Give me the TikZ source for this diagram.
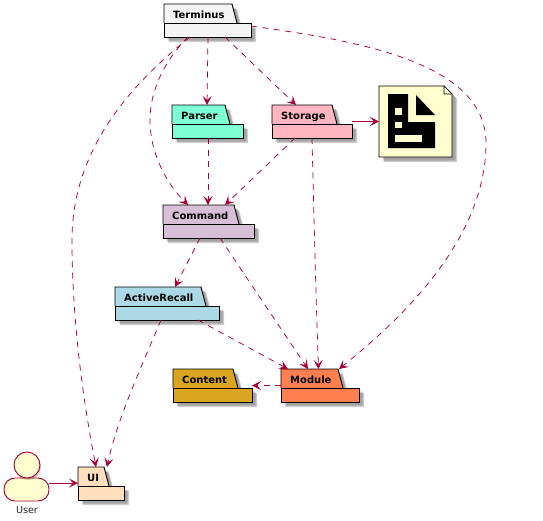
\documentclass[tikz,border=0pt]{standalone}
\usepackage{fontspec}
\setmainfont{DejaVu Sans}
\usepackage{xcolor}
\definecolor{depred}{HTML}{A80036}
\definecolor{notecream}{HTML}{FEFECE}
\definecolor{pkgterminus}{HTML}{F5F5F5}
\definecolor{pkgparser}{HTML}{7FFFD4}
\definecolor{pkgstorage}{HTML}{FFB6C1}
\definecolor{pkgcommand}{HTML}{D8BFD8}
\definecolor{pkgrecall}{HTML}{ADD8E6}
\definecolor{pkgcontent}{HTML}{DAA520}
\definecolor{pkgmodule}{HTML}{FF7F50}
\definecolor{pkgui}{HTML}{FFDFBD}
\usetikzlibrary{arrows.meta}
\tikzset{
    pkgline/.style={draw=black, line width=0.95pt, line join=miter},
    softshadow/.style={fill=black, opacity=0.2, draw=none},
    pkgframe/.style={inner sep=0pt, outer sep=0pt, minimum height=33pt},
    pkglabel/.style={anchor=base west, inner sep=0pt, font=\bfseries\fontsize{10}{12}\selectfont},
    dep/.style={draw=depred, line width=0.75pt, dash pattern=on 6pt off 5.5pt, -{Stealth[length=9pt, width=9pt, inset=4pt]}},
    uses/.style={draw=depred, line width=0.75pt, -{Stealth[length=9pt, width=9pt, inset=4pt]}}
}
% name, label, colour, left, top, tab width, body width
\newcommand{\pkgbox}[7]{
    \foreach \off in {3.5, 5} {
        \fill[softshadow, shift={(\off, \off)}] (#4, #5) -- ({#4+#6}, #5) -- ({#4+#6+5}, {#5+19}) -- ({#4+#7}, {#5+19}) -- ({#4+#7}, {#5+33}) -- (#4, {#5+33}) -- cycle;
    }
    \draw[pkgline, fill=#3] (#4, {#5+19}) -- (#4, #5) -- ({#4+#6}, #5) -- ({#4+#6+5}, {#5+19});
    \draw[pkgline, fill=#3] (#4, {#5+19}) rectangle ({#4+#7}, {#5+33});
    \node[pkgframe, minimum width=#7pt] (#1) at ({#4+#7/2}, {#5+16.5}) {};
    \node[pkglabel] (#1label) at ({#4+9}, {#5+14.5}) {#2};
}

\begin{document}
\begin{tikzpicture}[x=1pt, y=-1pt]
    \useasboundingbox (0, 0) rectangle (543, 520);

    % Packages
    \pkgbox{terminus}{Terminus}{pkgterminus}{164}{4}{68}{87}
    \pkgbox{parser}{Parser}{pkgparser}{172}{105}{53}{71}
    \pkgbox{storage}{Storage}{pkgstorage}{272}{105}{60}{80}
    \pkgbox{command}{Command}{pkgcommand}{163}{205}{71}{91}
    \pkgbox{recall}{ActiveRecall}{pkgrecall}{115}{287}{86}{104}
    \pkgbox{content}{Content}{pkgcontent}{173}{369}{60}{79}
    \pkgbox{module}{Module}{pkgmodule}{281}{369}{57}{78}
    \pkgbox{ui}{UI}{pkgui}{78}{467}{26}{46}

    % File note with its icon
    \foreach \off in {3.5, 5} {
        \fill[softshadow, shift={(\off, \off)}] (379, 86) -- (444, 86) -- (452, 94) -- (452, 157) -- (379, 157) -- cycle;
    }
    \node[inner sep=0pt, outer sep=0pt, minimum width=73pt, minimum height=71pt] (datafile) at (415.5, 121.5) {};
    \draw[pkgline, fill=notecream] (379, 86) -- (444, 86) -- (452, 94) -- (452, 157) -- (379, 157) -- cycle;
    \draw[draw=black, line width=0.6pt, fill=notecream] (444, 86) -- (444, 94) -- (452, 94) -- cycle;
    \fill[black] (388, 94) -- (408, 94) -- (408, 122) -- (435, 122) -- (435, 148) -- (388, 148) -- cycle;
    \fill[black] (416, 95) -- (435, 115) -- (416, 115) -- cycle;
    \fill[notecream] (395, 108) rectangle (402, 115);
    \fill[notecream] (395, 122) rectangle (402, 128);
    \fill[notecream] (395, 135) rectangle (422, 142);

    % User
    \node[draw=depred, line width=0.95pt, fill=notecream, rounded corners=11pt, inner sep=0pt, outer sep=0pt, minimum width=45pt, minimum height=23pt] (user) at (26.5, 489.5) {};
    \fill[softshadow] (28, 467) circle (13);
    \node[draw=depred, line width=0.95pt, fill=notecream, circle, inner sep=0pt, outer sep=0pt, minimum size=26pt] (userhead) at (27, 465) {};
    \node[inner sep=0pt, text=black!85, font=\fontsize{9.6}{11}\selectfont] (username) at (27, 510) {User};

    % Dependencies
    \draw[dep] ([xshift=0.5pt]terminus.south) -- ([xshift=-0.5pt]parser.north);
    \draw[dep] ([xshift=17.5pt]terminus.south) -- ([xshift=-16pt]storage.north);
    \draw[dep] ([xshift=-19.5pt]terminus.south) .. controls (165, 60) and (150, 90) .. (150, 120) .. controls (150, 155) and (168, 185) .. ([xshift=-20.5pt]command.north);
    \draw[dep] ([xshift=-17.5pt]terminus.south) .. controls (130, 85) and (72, 150) .. (72, 240) .. controls (72, 320) and (83, 400) .. ([xshift=-5pt]ui.north);
    \draw[dep] ([yshift=-5.5pt]terminus.east) .. controls (350, 40) and (486, 60) .. (486, 143) .. controls (486, 240) and (400, 320) .. ([xshift=19pt]module.north);
    \draw[uses] (storage.east) -- (datafile.west);
    \draw[dep] ([xshift=-17pt]storage.south) -- ([xshift=16.5pt]command.north);
    \draw[dep] (storage.south) .. controls (314, 220) and (316, 300) .. ([xshift=-1.5pt]module.north);
    \draw[dep] ([xshift=0.5pt]parser.south) -- ([xshift=-0.5pt]command.north);
    \draw[dep] ([xshift=-8.5pt]command.south) -- ([xshift=8pt]recall.north);
    \draw[dep] ([xshift=11.5pt]command.south) -- ([xshift=-12pt]module.north);
    \draw[dep] ([xshift=31pt]recall.south) -- ([xshift=-32pt]module.north);
    \draw[dep] ([xshift=-6pt]recall.south) .. controls (140, 370) and (117, 420) .. ([xshift=6pt]ui.north);
    \draw[dep] (module.west) -- (content.east);
    \draw[uses] ([yshift=6.5pt]user.east) -- ([yshift=0.5pt]ui.west);
\end{tikzpicture}
\end{document}
